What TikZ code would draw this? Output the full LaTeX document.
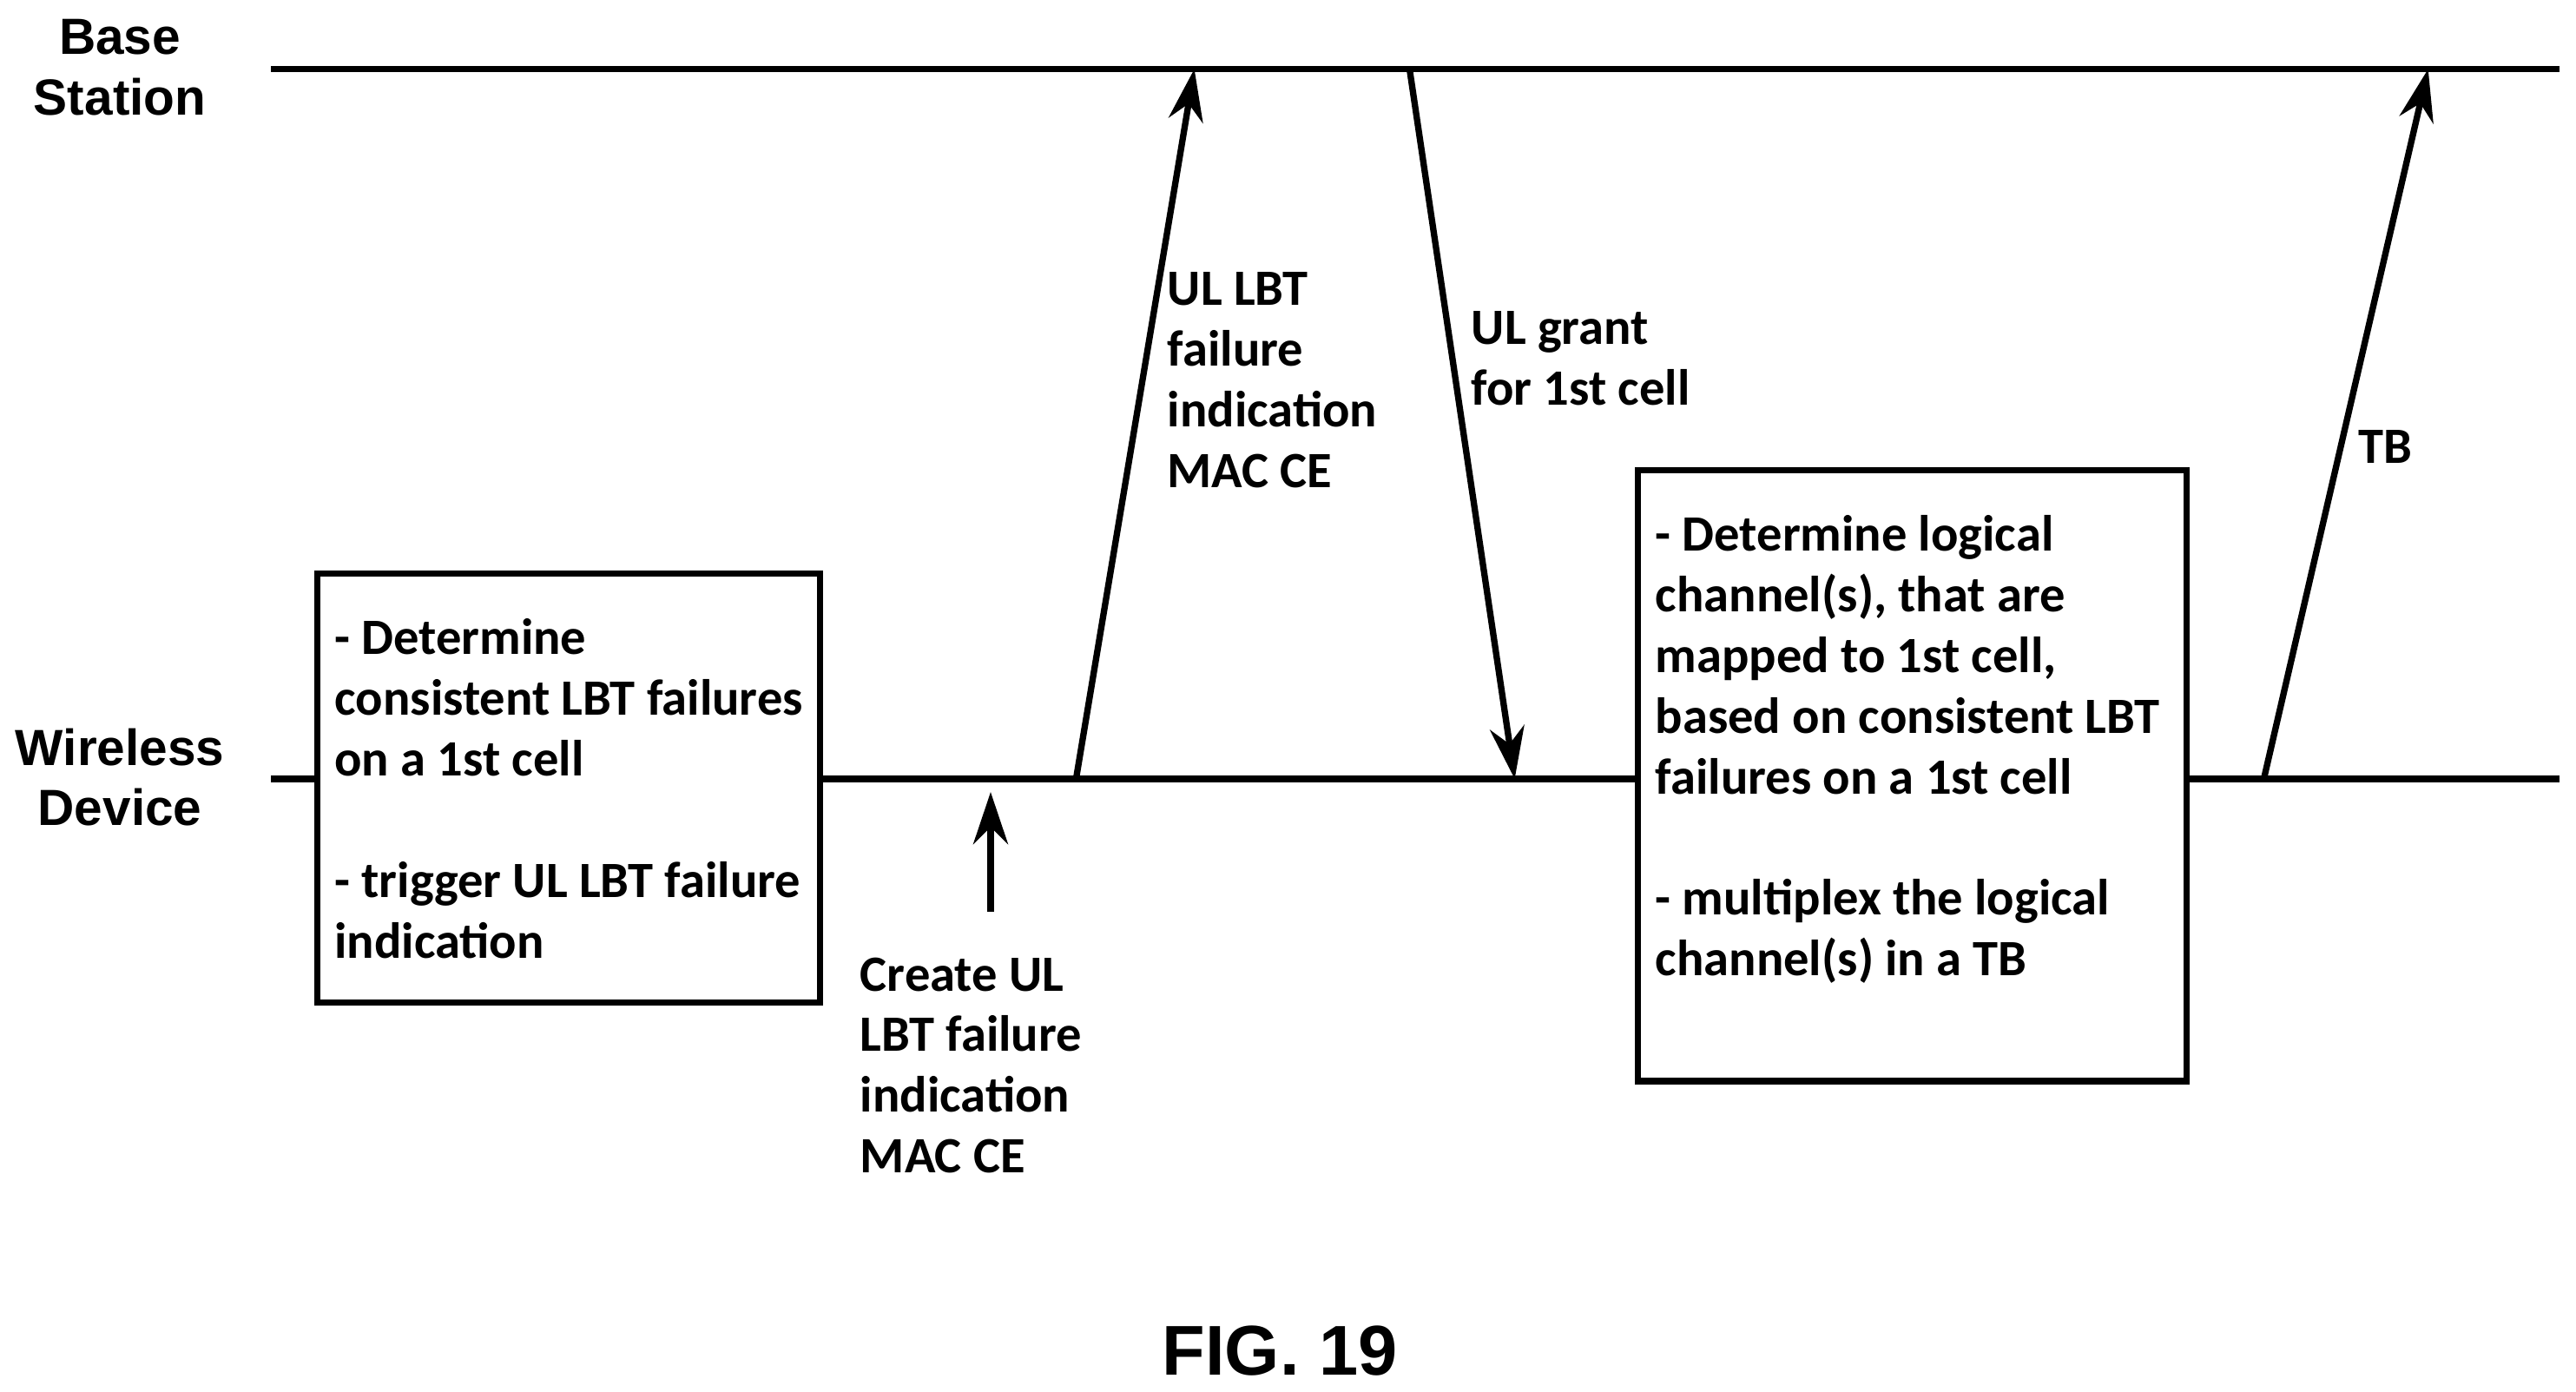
\documentclass[tikz,border=0pt]{standalone}
\usepackage{fontspec}
\setmainfont{Carlito}
\newfontfamily\arialf{Liberation Sans}
\usetikzlibrary{arrows.meta}
\begin{document}
\begin{tikzpicture}[x=0.01cm,y=-0.01cm,
  ln/.style={line width=1.1pt},
  ar/.style={line width=1.1pt,-{Stealth[length=9pt,width=6pt]}},
  box/.style={draw,line width=1.1pt},
  txt/.style={font=\fontsize{8.8pt}{10.5pt}\selectfont\bfseries,align=left,anchor=north west,inner sep=0pt},
  lab/.style={font=\arialf\fontsize{8.8pt}{10.5pt}\selectfont\bfseries,align=center,inner sep=0pt}]
\useasboundingbox (0,0) rectangle (1568,847);
\node[lab] (bs) at (73,41) {Base\\Station};
\node[lab] (wd) at (73,473) {Wireless\\Device};
\node[lab,font=\arialf\fontsize{12.2pt}{15pt}\selectfont\bfseries] (fig) at (779,822) {FIG. 19};
\coordinate (bl) at (165,42); \coordinate (br) at (1558,42);
\draw[ln] (bl) -- (br);
\draw[box] (193,349) rectangle (499,610);
\draw[box] (997,286) rectangle (1331,658);
\coordinate (w0) at (165,474); \coordinate (w1) at (193,474);
\coordinate (w2) at (499,474); \coordinate (w3) at (997,474);
\coordinate (w4) at (1331,474); \coordinate (w5) at (1558,474);
\draw[ln] (w0)--(w1) (w2)--(w3) (w4)--(w5);
\node[txt] (t1) at (203,376) {- Determine\\consistent LBT failures\\on a 1st cell\\[10.5pt]- trigger UL LBT failure\\indication};
\node[txt] (t2) at (1007,313) {- Determine logical\\channel(s), that are\\mapped to 1st cell,\\based on consistent LBT\\failures on a 1st cell\\[10.5pt]- multiplex the logical\\channel(s) in a TB};
\coordinate (a1s) at (655,474); \coordinate (a1e) at (727,42);
\draw[ar] (a1s) -- (a1e);
\coordinate (a2s) at (858,42); \coordinate (a2e) at (922,474);
\draw[ar] (a2s) -- (a2e);
\coordinate (a3s) at (1378,474); \coordinate (a3e) at (1478,42);
\draw[ar] (a3s) -- (a3e);
\coordinate (a4s) at (603,555); \coordinate (a4e) at (603,482);
\draw[ar] (a4s) -- (a4e);
\node[txt] (l1) at (710,165) {UL LBT\\failure\\indication\\MAC CE};
\node[txt] (l2) at (895,189) {UL grant\\for 1st cell};
\node[txt] (l3) at (1435,261) {TB};
\node[txt] (l4) at (523,582) {Create UL\\LBT failure\\indication\\MAC CE};
\end{tikzpicture}
\end{document}
